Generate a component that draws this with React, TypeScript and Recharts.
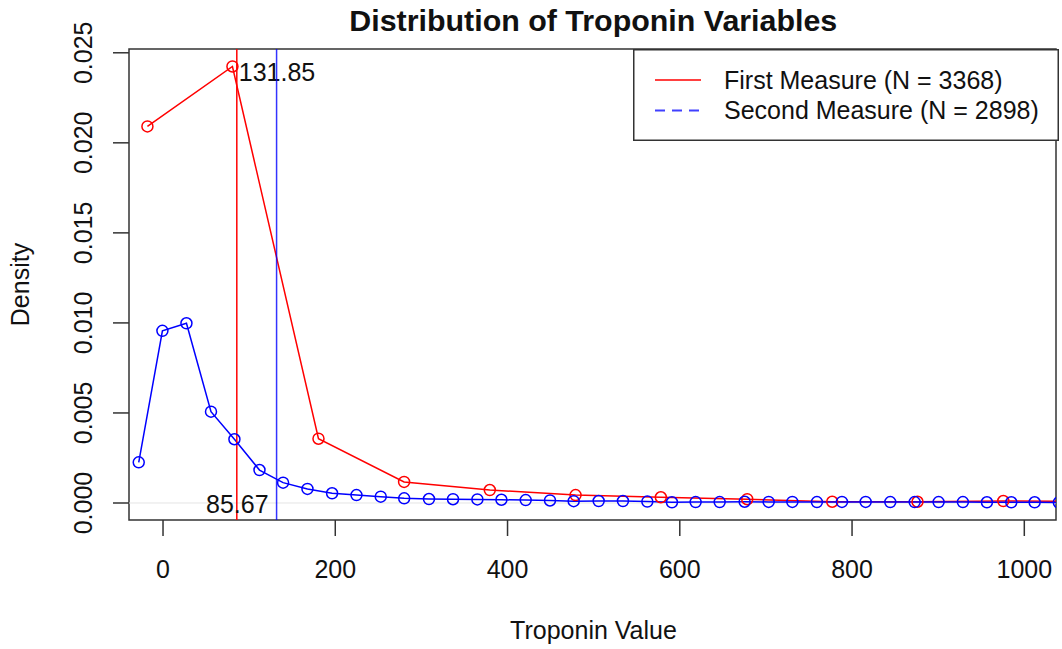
import React from "react";
import {
  ComposedChart,
  Line,
  XAxis,
  YAxis,
  ReferenceLine,
  ReferenceArea,
  Legend,
  Customized,
} from "recharts";

const FONT = '"Liberation Sans", Arial, Helvetica, sans-serif';
const INK = "#111111";

const chartTitle = "Distribution of Troponin Variables";
const xAxisTitle = "Troponin Value";
const yAxisTitle = "Density";

const xTicks = [0, 200, 400, 600, 800, 1000];
const yTicks = [0, 0.005, 0.01, 0.015, 0.02, 0.025];
const xDomain = [-39.5, 1036.8];
const yDomain = [-0.000944, 0.02521];

const seriesNames = ["First Measure (N = 3368)", "Second Measure (N = 2898)"];
const seriesColors = ["#ff0000", "#0000ff"];
const legendDashes = ["", "10 7"];

// First measure (red)
const firstX = [-18.1, 80.6, 180.5, 279.9, 379.4, 479.0, 578.0, 678.3, 777.0, 876.0, 975.6, 1075.0];
const firstY = [0.02091, 0.02424, 0.00357, 0.00117, 0.00072, 0.00044, 0.00032, 0.00021, 0.00007, 0.00007, 0.00011, 0.00008];

// Second measure (blue)
const secondX = [
  -28.2, -0.7, 27.2, 55.7, 82.9, 112.0, 139.4, 167.7, 196.3, 224.6,
  252.8, 280.0, 308.8, 336.7, 365.0, 392.9, 421.1, 449.3, 476.8, 505.8,
  534.0, 562.3, 590.9, 618.4, 646.3, 675.3, 703.2, 730.7, 759.2, 788.3,
  815.8, 844.4, 872.7, 900.5, 928.7, 956.6, 984.9, 1012.0, 1040.1,
];
const secondY = [
  0.00226, 0.00956, 0.00998, 0.00507, 0.00354, 0.00183, 0.00113, 0.00078, 0.00054, 0.00044,
  0.00035, 0.00026, 0.00022, 0.00021, 0.0002, 0.00018, 0.00016, 0.00014, 0.0001, 0.00011,
  0.00011, 0.00008, 0.00004, 0.00005, 0.00005, 0.00007, 0.00006, 0.00006, 0.00005, 0.00006,
  0.00006, 0.00005, 0.00005, 0.00005, 0.00005, 0.00004, 0.00004, 0.00004, 0.00003,
];

// vertical reference lines (means) and the labels printed next to them
const firstMean = 85.67;
const secondMean = 131.85;
const firstMeanLabel = "131.85";
const secondMeanLabel = "85.67";

const firstData = firstX.map((x, i) => ({ x, y: firstY[i] }));
const secondData = secondX.map((x, i) => ({ x, y: secondY[i] }));

const XTick = (props: any) => (
  <text
    x={props.x}
    y={props.y + 39.5}
    textAnchor="middle"
    fontFamily={FONT}
    fontSize={25}
    fill={INK}
  >
    {props.payload.value}
  </text>
);

const YTick = (props: any) => {
  const bx = props.x - 19.3;
  return (
    <text
      x={bx}
      y={props.y}
      transform={`rotate(-90 ${bx} ${props.y})`}
      textAnchor="middle"
      fontFamily={FONT}
      fontSize={25}
      fill={INK}
    >
      {Number(props.payload.value).toFixed(3)}
    </text>
  );
};

const LegendBox = (props: any) => {
  const payload = props.payload || [];
  return (
    <svg width={426} height={93} style={{ display: "block", overflow: "visible" }}>
      <rect x={0.75} y={0.75} width={424.5} height={90.5} fill="white" stroke="#333" strokeWidth={1.5} />
      {payload.map((p: any, i: number) => {
        const idx = seriesNames.indexOf(p.value);
        return (
          <g key={i}>
            <line
              x1={22}
              x2={68}
              y1={31 + i * 30.5}
              y2={31 + i * 30.5}
              stroke={seriesColors[idx >= 0 ? idx : i]}
              strokeOpacity={0.75}
              strokeWidth={2}
              strokeDasharray={legendDashes[idx >= 0 ? idx : i] || undefined}
            />
            <text x={91} y={39.5 + i * 30.5} fontFamily={FONT} fontSize={25} fill={INK}>
              {p.value}
            </text>
          </g>
        );
      })}
    </svg>
  );
};

const Title = () => (
  <text x={593.3} y={31} textAnchor="middle" fontFamily={FONT} fontWeight="bold" fontSize={30.4} fill={INK}>
    {chartTitle}
  </text>
);

export default function App() {
  return (
    <div style={{ position: "absolute", left: 0, top: 0, background: "white" }}>
      <ComposedChart width={1062} height={649} margin={{ top: 49, right: 6, bottom: 0, left: 0 }}>
        <XAxis
          type="number"
          dataKey="x"
          domain={xDomain}
          allowDataOverflow
          ticks={xTicks}
          interval={0}
          height={129}
          tickSize={16}
          axisLine={false}
          tickLine={{ stroke: "#333", strokeWidth: 1.5 }}
          tick={XTick}
          label={(p: any) => {
            const vb = p.viewBox || { x: 129, y: 520, width: 927, height: 129 };
            return (
              <text
                x={vb.x + vb.width / 2 + 1}
                y={vb.y + 118.8}
                textAnchor="middle"
                fontFamily={FONT}
                fontSize={25}
                fill={INK}
              >
                {xAxisTitle}
              </text>
            );
          }}
        />
        <YAxis
          type="number"
          domain={yDomain}
          allowDataOverflow
          ticks={yTicks}
          interval={0}
          width={129}
          tickSize={16}
          axisLine={false}
          tickLine={{ stroke: "#333", strokeWidth: 1.5 }}
          tick={YTick}
          label={(p: any) => {
            const vb = p.viewBox || { x: 0, y: 49, width: 129, height: 471 };
            const cy = vb.y + vb.height / 2;
            const bx = 29;
            return (
              <text
                x={bx}
                y={cy}
                transform={`rotate(-90 ${bx} ${cy})`}
                textAnchor="middle"
                fontFamily={FONT}
                fontSize={25}
                fill={INK}
              >
                {yAxisTitle}
              </text>
            );
          }}
        />
        <ReferenceLine y={0} stroke="#e4e4e4" strokeWidth={1} />
        <Line
          data={firstData}
          dataKey="y"
          name={seriesNames[0]}
          type="linear"
          stroke={seriesColors[0]}
          strokeWidth={1.5}
          dot={{ r: 5.5, stroke: seriesColors[0], strokeWidth: 1.5, fill: "none" }}
          activeDot={false}
          isAnimationActive={false}
        />
        <Line
          data={secondData}
          dataKey="y"
          name={seriesNames[1]}
          type="linear"
          stroke={seriesColors[1]}
          strokeWidth={1.5}
          dot={{ r: 5.5, stroke: seriesColors[1], strokeWidth: 1.5, fill: "none" }}
          activeDot={false}
          isAnimationActive={false}
        />
        <ReferenceLine
          x={firstMean}
          stroke={seriesColors[0]}
          strokeWidth={1.5}
          label={(p: any) => {
            const vb = p.viewBox;
            return (
              <text x={vb.x + 2} y={vb.y + 32.4} fontFamily={FONT} fontSize={25} fill={INK}>
                {firstMeanLabel}
              </text>
            );
          }}
        />
        <ReferenceLine
          x={secondMean}
          stroke={seriesColors[1]}
          strokeOpacity={0.8}
          strokeWidth={1.5}
          label={(p: any) => {
            const vb = p.viewBox;
            return (
              <text
                x={vb.x - 8}
                y={vb.y + vb.height - 7.5}
                textAnchor="end"
                fontFamily={FONT}
                fontSize={25}
                fill={INK}
              >
                {secondMeanLabel}
              </text>
            );
          }}
        />
        <ReferenceArea
          x1={xDomain[0]}
          x2={xDomain[1]}
          y1={yDomain[0]}
          y2={yDomain[1]}
          ifOverflow="visible"
          fill="none"
          fillOpacity={0}
          stroke="#333"
          strokeWidth={1.5}
        />
        <Legend
          layout="horizontal"
          verticalAlign="middle"
          align="center"
          content={LegendBox}
          wrapperStyle={{ left: 633, top: 49, width: 426, height: 93 }}
        />
        <Customized component={Title} />
      </ComposedChart>
    </div>
  );
}
